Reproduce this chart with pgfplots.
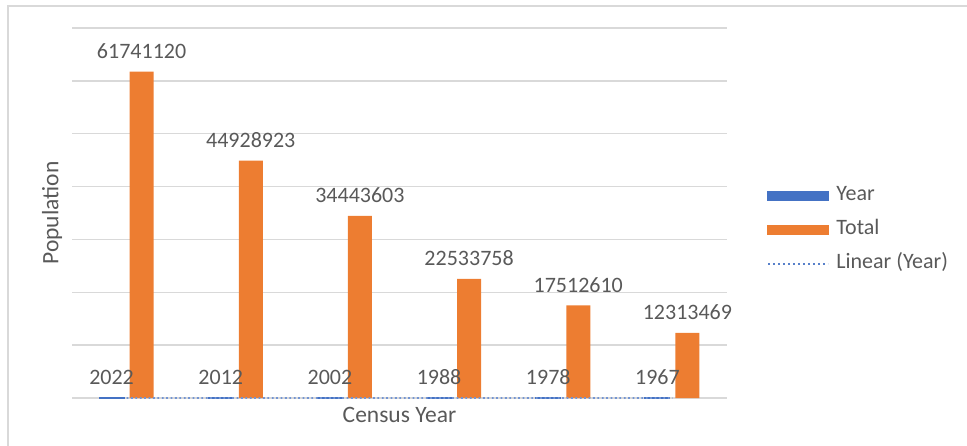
\documentclass[border=0pt]{standalone}
\usepackage{pgfplots}
\pgfplotsset{compat=1.18}
\usepackage{fontspec}
\setmainfont{Carlito}
\definecolor{xlblue}{HTML}{4472C4}
\definecolor{xlorange}{HTML}{ED7D31}
\definecolor{xltext}{HTML}{595959}
\definecolor{xlgrid}{HTML}{D9D9D9}
\begin{document}
\begin{tikzpicture}
\useasboundingbox (0bp,0bp) rectangle (967bp,-446bp);
\draw[xlgrid, line width=1.5bp] (8bp,-446bp) -- (8bp,-6bp) -- (967bp,-6bp);
\begin{axis}[
  at={(72bp,-398bp)}, anchor=south west,
  scale only axis, width=655bp, height=370bp,
  xmin=0.5, xmax=6.5, ymin=0, ymax=70000000,
  ytick={0,10000000,20000000,30000000,40000000,50000000,60000000,70000000},
  yticklabels={}, scaled y ticks=false,
  xtick=\empty, major tick length=0pt,
  ymajorgrids, grid style={xlgrid, line width=1.3bp},
  axis line style={draw=none},
  clip=false,
  xlabel={Census Year},
  xlabel style={at={([yshift=-17bp]axis description cs:0.5,0)}, anchor=center,
    font=\fontsize{23.5bp}{28bp}\selectfont, text=xltext},
  ylabel={Population},
  ylabel style={at={([xshift=-20bp]axis description cs:0,0.5)}, anchor=center,
    font=\fontsize{23.5bp}{28bp}\selectfont, text=xltext},
  legend cell align=left,
  legend style={draw=none, fill=none, at={(axis description cs:1,0.455)}, anchor=west,
    xshift=40bp, inner sep=0pt, row sep=14bp, column sep=7bp,
    font=\fontsize{22bp}{26bp}\selectfont, text=xltext,
    nodes={inner sep=0pt, text height=15bp, text depth=5bp}},
]
\addplot[ybar, bar width=24bp, bar shift=-15bp, fill=xlblue, draw=xlblue, line width=2bp,
  forget plot, nodes near coords, point meta=explicit symbolic,
  every node near coord/.append style={inner sep=0pt, yshift=13bp, xshift=-15bp,
    font=\fontsize{22bp}{26bp}\selectfont, text=xltext, line width=0.4pt}]
  table[x=x, y=y, meta=lab] {
x y lab
1 2022 2022
2 2012 2012
3 2002 2002
4 1988 1988
5 1978 1978
6 1967 1967
};
\addplot[ybar, bar width=24bp, bar shift=15bp, fill=xlorange, draw=none,
  forget plot, nodes near coords, point meta=explicit symbolic,
  every node near coord/.append style={inner sep=0pt, yshift=13bp, xshift=15bp,
    font=\fontsize{22bp}{26bp}\selectfont, text=xltext}]
  table[x=x, y=y, meta=lab] {
x y lab
1 61741120 61741120
2 44928923 44928923
3 34443603 34443603
4 22533758 22533758
5 17512610 17512610
6 12313469 12313469
};
\addplot[xlblue!75, line width=1.8bp, dash pattern=on 1.8bp off 2.6bp, forget plot]
  coordinates {(1,2022.76) (2,2011.6) (3,2000.4) (4,1989.3) (5,1978.1) (6,1966.9)};
\addlegendimage{legend image code/.code={\fill[xlblue] (0bp,-4.5bp) rectangle (61bp,4.5bp);}}
\addlegendentry{Year}
\addlegendimage{legend image code/.code={\fill[xlorange] (0bp,-4.5bp) rectangle (61bp,4.5bp);}}
\addlegendentry{Total}
\addlegendimage{legend image code/.code={\draw[xlblue!90, line width=2bp, dash pattern=on 2bp off 3bp] (1bp,0bp) -- (61bp,0bp);}}
\addlegendentry{Linear (Year)}
\end{axis}
\end{tikzpicture}
\end{document}
